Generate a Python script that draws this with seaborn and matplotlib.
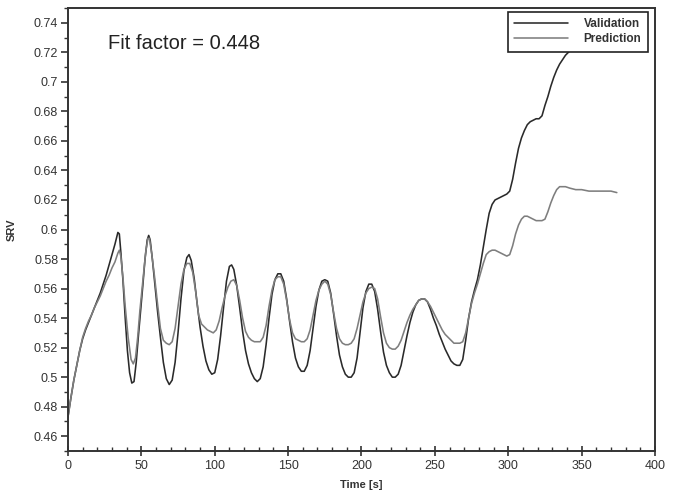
import numpy as np
import pandas as pd
import matplotlib
matplotlib.use("Agg")
import matplotlib.pyplot as plt
import seaborn as sns
from matplotlib.ticker import MultipleLocator

# ---- data ----
val_t = [0, 2, 4, 6, 8, 10, 12, 14, 16, 18, 20, 22, 24, 26, 28, 30, 32, 34, 35, 36, 37.5, 39, 40.5, 42, 43.5,
         45, 46.5, 48, 49.5, 51, 52.5, 54, 55, 56, 57.5, 59, 61, 63, 65, 67, 69, 71, 73, 75, 77, 79, 81, 82.5,
         84, 86, 88, 90, 92, 94, 96, 98, 100, 102, 104, 106, 108, 110, 111.5, 113, 115, 117, 119, 121, 123,
         125, 127, 129, 131, 133, 135, 137, 139, 141, 143, 145, 147, 149, 151, 153, 155, 157, 159, 161, 163,
         165, 167, 169, 171, 173, 175, 177, 179, 181, 183, 185, 187, 189, 191, 193, 195, 197, 199, 201, 203,
         205, 207, 209, 211, 213, 215, 217, 219, 221, 223, 225, 227, 229, 231, 233, 235, 237, 239, 241, 243,
         245, 247, 249, 251, 253, 255, 257, 259, 261, 263, 265, 267, 269, 271, 273, 275, 277, 279, 281, 283,
         285, 287, 289, 291, 293, 295, 297, 299, 301, 303, 305, 307, 309, 311, 313, 315, 317, 319, 321, 323,
         325, 327, 329, 331, 333, 335, 337, 339, 342, 346, 350, 360, 374]
val_v = [0.473, 0.486, 0.498, 0.508, 0.518, 0.526, 0.532, 0.537, 0.542, 0.547, 0.552, 0.557, 0.563, 0.569,
         0.576, 0.583, 0.590, 0.598, 0.597, 0.585, 0.565, 0.540, 0.518, 0.503, 0.496, 0.497, 0.510, 0.528,
         0.545, 0.562, 0.580, 0.593, 0.596, 0.593, 0.580, 0.565, 0.545, 0.527, 0.510, 0.499, 0.495, 0.498,
         0.510, 0.530, 0.553, 0.572, 0.581, 0.583, 0.579, 0.567, 0.550, 0.534, 0.521, 0.511, 0.505, 0.502,
         0.503, 0.512, 0.528, 0.547, 0.565, 0.575, 0.576, 0.573, 0.562, 0.547, 0.531, 0.518, 0.509, 0.503,
         0.499, 0.497, 0.499, 0.507, 0.522, 0.540, 0.556, 0.566, 0.570, 0.570, 0.565, 0.553, 0.538, 0.524,
         0.513, 0.507, 0.504, 0.504, 0.508, 0.518, 0.533, 0.548, 0.559, 0.565, 0.566, 0.565, 0.557, 0.543,
         0.528, 0.515, 0.507, 0.502, 0.500, 0.500, 0.503, 0.513, 0.530, 0.547, 0.558, 0.563, 0.563, 0.558,
         0.546, 0.531, 0.517, 0.508, 0.503, 0.500, 0.500, 0.502, 0.508, 0.518, 0.528, 0.537, 0.544, 0.549,
         0.552, 0.553, 0.553, 0.551, 0.546, 0.540, 0.535, 0.529, 0.524, 0.519, 0.515, 0.511, 0.509, 0.508,
         0.508, 0.512, 0.525, 0.540, 0.551, 0.559, 0.566, 0.576, 0.588, 0.600, 0.611, 0.617, 0.620, 0.621,
         0.622, 0.623, 0.624, 0.626, 0.634, 0.645, 0.655, 0.662, 0.667, 0.671, 0.673, 0.674, 0.675, 0.675,
         0.677, 0.684, 0.690, 0.697, 0.703, 0.708, 0.712, 0.715, 0.718, 0.721, 0.724, 0.727, 0.731, 0.735]

pred_t = [0, 2, 4, 6, 8, 10, 12, 14, 16, 18, 20, 22, 24, 26, 28, 30, 32, 34, 35, 36, 37.5, 39, 41, 43, 44.5,
          46, 47.5, 49, 51, 53, 54.5, 55.5, 57, 59, 61, 63, 65, 67, 69, 71, 73, 75, 77, 79, 81, 83, 85, 87,
          89, 91, 93, 95, 97, 99, 101, 103, 105, 107, 109, 111, 113, 115, 117, 119, 121, 123, 125, 127, 129,
          131, 133, 135, 137, 139, 141, 143, 145, 147, 149, 151, 153, 155, 157, 159, 161, 163, 165, 167, 169,
          171, 173, 175, 177, 179, 181, 183, 185, 187, 189, 191, 193, 195, 197, 199, 201, 203, 205, 207, 209,
          211, 213, 215, 217, 219, 221, 223, 225, 227, 229, 231, 233, 235, 237, 239, 241, 243, 245, 247, 249,
          251, 253, 255, 257, 259, 261, 263, 265, 267, 269, 271, 273, 275, 277, 279, 281, 283, 285, 287, 289,
          291, 293, 295, 297, 299, 301, 303, 305, 307, 309, 311, 313, 315, 317, 319, 321, 323, 325, 327, 329,
          331, 333, 335, 337, 339, 342, 346, 350, 355, 360, 365, 370, 374]
pred_v = [0.473, 0.486, 0.498, 0.508, 0.518, 0.527, 0.533, 0.538, 0.542, 0.547, 0.551, 0.555, 0.560, 0.565,
          0.569, 0.574, 0.578, 0.584, 0.586, 0.582, 0.567, 0.548, 0.527, 0.512, 0.509, 0.513, 0.527, 0.545,
          0.565, 0.585, 0.594, 0.594, 0.584, 0.568, 0.550, 0.533, 0.525, 0.523, 0.522, 0.524, 0.533, 0.548,
          0.563, 0.573, 0.577, 0.577, 0.571, 0.558, 0.542, 0.536, 0.534, 0.532, 0.531, 0.530, 0.532, 0.538,
          0.547, 0.555, 0.561, 0.565, 0.566, 0.562, 0.552, 0.540, 0.531, 0.527, 0.525, 0.524, 0.524, 0.524,
          0.527, 0.535, 0.548, 0.559, 0.566, 0.568, 0.568, 0.563, 0.552, 0.539, 0.530, 0.526, 0.525, 0.524,
          0.524, 0.526, 0.532, 0.542, 0.552, 0.559, 0.563, 0.565, 0.563, 0.556, 0.544, 0.533, 0.526, 0.523,
          0.522, 0.522, 0.523, 0.526, 0.533, 0.542, 0.551, 0.557, 0.560, 0.561, 0.560, 0.553, 0.541, 0.530,
          0.523, 0.520, 0.519, 0.519, 0.521, 0.525, 0.531, 0.537, 0.542, 0.546, 0.549, 0.552, 0.553, 0.553,
          0.551, 0.548, 0.544, 0.540, 0.536, 0.532, 0.529, 0.527, 0.525, 0.523, 0.523, 0.523, 0.524, 0.530,
          0.540, 0.550, 0.557, 0.563, 0.570, 0.577, 0.583, 0.585, 0.586, 0.586, 0.585, 0.584, 0.583, 0.582,
          0.583, 0.589, 0.597, 0.603, 0.607, 0.609, 0.609, 0.608, 0.607, 0.606, 0.606, 0.606, 0.607, 0.612,
          0.618, 0.623, 0.627, 0.629, 0.629, 0.629, 0.628, 0.627, 0.627, 0.626, 0.626, 0.626, 0.626, 0.625]

series_names = ["Validation", "Prediction"]
x_label = "Time [s]"
y_label = "SRV"
annotation = "Fit factor = 0.448"

df = pd.concat([
    pd.DataFrame({"t": val_t, "v": val_v, "series": series_names[0]}),
    pd.DataFrame({"t": pred_t, "v": pred_v, "series": series_names[1]}),
], ignore_index=True)

sns.set_theme(style="white")
plt.rcParams["font.family"] = ["Liberation Sans", "DejaVu Sans"]

fig = plt.figure(figsize=(6.77, 4.95), dpi=100)
ax = fig.add_axes([0.1004, 0.0889, 0.8671, 0.8949])

sns.lineplot(data=df, x="t", y="v", hue="series", sort=False, estimator=None,
             palette={"Validation": "#2a2a2a", "Prediction": "#7e7e7e"},
             linewidth=1.15, ax=ax)

ax.set_xlim(0, 400)
ax.set_ylim(0.45, 0.75)
ax.xaxis.set_major_locator(MultipleLocator(50))
ax.xaxis.set_minor_locator(MultipleLocator(10))
ax.yaxis.set_minor_locator(MultipleLocator(0.01))
yt = np.round(np.arange(0.46, 0.7401, 0.02), 2)
ax.set_yticks(yt)
ax.set_yticklabels([f"{v:g}" for v in yt])

for s in ax.spines.values():
    s.set_color("#333333")
    s.set_linewidth(1.4)

ax.tick_params(axis="x", which="major", direction="inout", length=7, width=1.2,
               colors="#333333", labelsize=9, pad=3, labelcolor="#333333")
ax.tick_params(axis="x", which="minor", direction="in", length=3, width=1.0, colors="#333333")
ax.tick_params(axis="y", which="major", direction="out", length=5, width=1.2,
               colors="#333333", labelsize=9, pad=2, labelcolor="#333333")
ax.tick_params(axis="y", which="minor", direction="out", length=3, width=1.0, colors="#333333")
ax.tick_params(bottom=True, left=True, which="both")

ax.set_xlabel(x_label, fontsize=8, fontweight="bold", color="#333333", labelpad=6)
ax.set_ylabel(y_label, fontsize=8, fontweight="bold", color="#333333", labelpad=12)

ax.text(27, 0.726, annotation, fontsize=14.5, color="#222222", va="center", ha="left")

leg = ax.legend(loc="upper right", bbox_to_anchor=(0.988, 0.991), borderaxespad=0,
                frameon=True, fancybox=False,
                handlelength=4.6, handletextpad=1.3, borderpad=0.55, labelspacing=0.25,
                prop={"weight": "bold", "size": 8.5})
leg.get_frame().set_edgecolor("#222222")
leg.get_frame().set_linewidth(1.2)
leg.get_frame().set_alpha(1.0)
for txt in leg.get_texts():
    txt.set_color("#333333")

fig.savefig("out.png", dpi=100, facecolor="white")
